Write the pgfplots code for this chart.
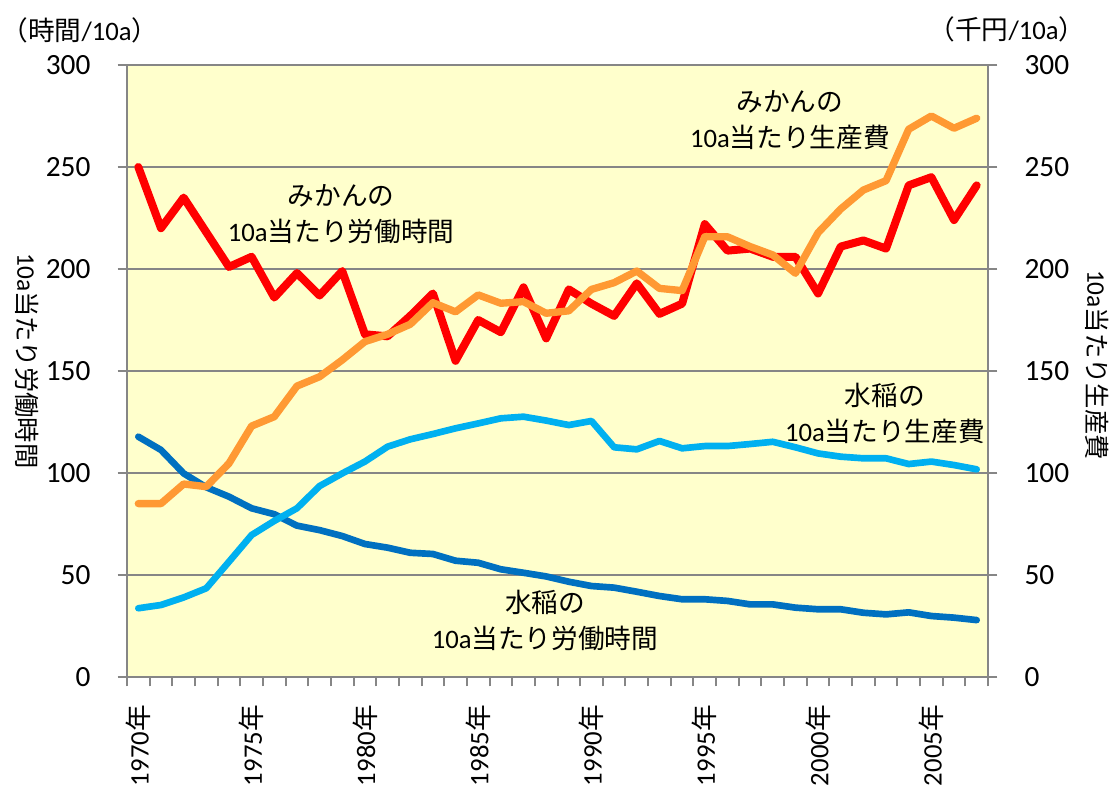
\documentclass[border=0pt]{standalone}
\usepackage{fontspec}
\setmainfont{Carlito}
\newfontfamily\jp{Noto Sans CJK JP}
\usepackage{pgfplots}
\pgfplotsset{compat=1.18}
\definecolor{bgy}{RGB}{255,255,204}
\definecolor{gr}{RGB}{134,134,134}
\definecolor{cred}{RGB}{255,0,0}
\definecolor{corange}{RGB}{255,153,51}
\definecolor{cdblue}{RGB}{0,112,192}
\definecolor{clblue}{RGB}{0,176,240}

\pgfplotstableread{
x y
0 250
1 220
2 235
3 218
4 201
5 206
6 186
7 198
8 187
9 199
10 168
11 167
12 177
13 188
14 155
15 175
16 169
17 191
18 166
19 190
20 183
21 177
22 193
23 178
24 183
25 222
26 209
27 210
28 206
29 206
30 188
31 211
32 214
33 210
34 241
35 245
36 224
37 241
}\mikanhours

\pgfplotstableread{
x y
0 117.8
1 111.3
2 99.8
3 93.0
4 88.4
5 82.7
6 79.8
7 74.2
8 72.0
9 69.1
10 65.2
11 63.4
12 60.9
13 60.3
14 57.0
15 56.0
16 52.8
17 51.1
18 49.3
19 46.7
20 44.6
21 43.8
22 41.8
23 39.7
24 38.1
25 38.1
26 37.3
27 35.6
28 35.6
29 34.0
30 33.2
31 33.2
32 31.5
33 30.7
34 31.7
35 29.9
36 29.1
37 27.9
}\ricehours

\pgfplotstableread{
x y
0 85.0
1 85.0
2 94.6
3 93.3
4 104.7
5 123.0
6 127.6
7 142.6
8 147.2
9 155.4
10 164.4
11 168.0
12 172.9
13 183.5
14 179.0
15 187.3
16 183.2
17 184.0
18 178.3
19 179.5
20 190.0
21 193.3
22 199.0
23 190.5
24 189.4
25 215.8
26 215.8
27 211.0
28 206.9
29 197.9
30 217.8
31 229.4
32 238.7
33 243.3
34 268.5
35 275.0
36 269.0
37 273.9
}\mikancost

\pgfplotstableread{
x y
0 33.7
1 35.3
2 39.0
3 43.5
4 56.5
5 69.6
6 76.5
7 82.7
8 93.6
9 99.8
10 105.6
11 112.9
12 116.5
13 119.1
14 121.9
15 124.3
16 126.8
17 127.6
18 125.7
19 123.5
20 125.5
21 112.6
22 111.6
23 115.7
24 112.1
25 113.2
26 113.2
27 114.2
28 115.3
29 112.6
30 109.6
31 108.0
32 107.2
33 107.2
34 104.4
35 105.6
36 103.9
37 101.8
}\ricecost

\begin{document}
\begin{tikzpicture}
\path[use as bounding box] (-95.25pt,-84pt) rectangle (738.75pt,507.75pt);
\pgfplotsset{common/.style={
  at={(0,0)}, anchor=south west, scale only axis,
  width=645.75pt, height=459pt,
  xmin=-0.5, xmax=37.5, ymin=0, ymax=300,
  ytick={0,50,...,300}, yticklabels={0,50,100,150,200,250,300},
  tick align=outside, major tick length=7pt, minor tick length=6pt,
  tick style={gr, line width=1.5pt},
  axis line style={gr, line width=2pt},
  yticklabel style={font=\fontsize{22}{26}\selectfont, inner sep=0pt},
}}
\begin{axis}[common,
  axis y line*=left, axis x line*=bottom,
  tick align=outside,
  axis background/.style={fill=bgy},
  ymajorgrids, grid style={gr, line width=2pt},
  xtick={-0.5,0.5,...,37.5}, xticklabels={},
  extra x ticks={0,5,...,35},
  extra x tick labels={1970{\jp 年},1975{\jp 年},1980{\jp 年},1985{\jp 年},1990{\jp 年},1995{\jp 年},2000{\jp 年},2005{\jp 年}},
  extra x tick style={major tick length=0pt,
    xticklabel style={yshift=-21pt, rotate=90, anchor=east, inner sep=0pt, font=\fontsize{20}{24}\selectfont}},
  yticklabel style={anchor=east, xshift=-20.25pt},
]
\addplot[cdblue, line width=5pt, line join=round, line cap=round] table[x=x,y=y] {\ricehours};
\addplot[cred, line width=6pt, line join=round, line cap=round] table[x=x,y=y] {\mikanhours};
\end{axis}
\begin{axis}[common,
  axis y line*=right, axis x line=none, xtick=\empty,
  yticklabel style={anchor=west, xshift=20.25pt},
]
\addplot[corange, line width=5.5pt, line join=round, line cap=round] table[x=x,y=y] {\mikancost};
\addplot[clblue, line width=5pt, line join=round, line cap=round] table[x=x,y=y] {\ricecost};
\node[align=center, font=\fontsize{20}{27}\selectfont] at (axis cs:8.95,227) {{\jp みかんの}\\10a{\jp 当たり労働時間}};
\node[align=center, font=\fontsize{20}{27}\selectfont] at (axis cs:28.76,273) {{\jp みかんの}\\10a{\jp 当たり生産費}};
\node[align=center, font=\fontsize{20}{27}\selectfont] at (axis cs:32.95,129.4) {{\jp 水稲の}\\10a{\jp 当たり生産費}};
\node[align=center, font=\fontsize{20}{27}\selectfont] at (axis cs:17.95,27.9) {{\jp 水稲の}\\10a{\jp 当たり労働時間}};
\end{axis}
\node[font=\fontsize{20}{24}\selectfont] at (-35.25pt,485.25pt) {{\jp （時間}/10a{\jp ）}};
\node[font=\fontsize{20}{24}\selectfont] at (660pt,486pt) {{\jp （千円}/10a{\jp ）}};
\node[rotate=-90, font=\fontsize{19}{23}\selectfont] at (-75pt,237pt) {10a{\jp 当たり労働時間}};
\node[rotate=-90, font=\fontsize{19}{23}\selectfont] at (727.5pt,234pt) {10a{\jp 当たり生産費}};
\end{tikzpicture}
\end{document}
